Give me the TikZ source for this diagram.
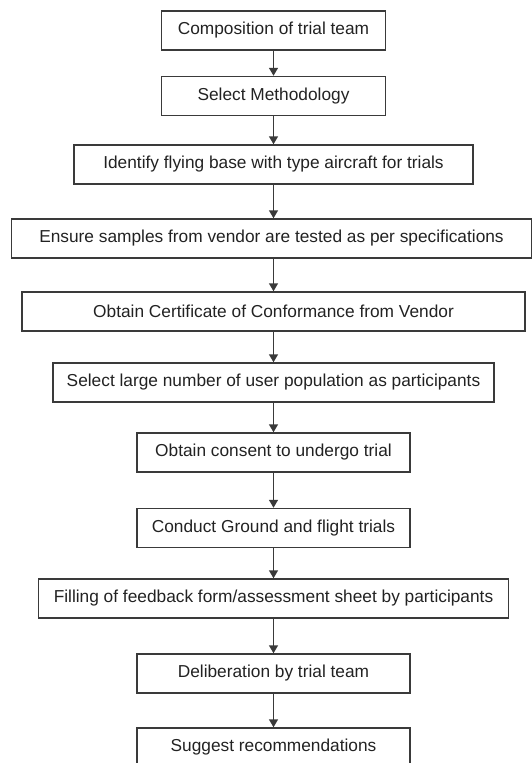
\documentclass[tikz,border=0pt]{standalone}
\usepackage{fontspec}
\setmainfont{Liberation Sans}
\usetikzlibrary{arrows.meta}
\definecolor{flowgray}{HTML}{3A3A3A}
\definecolor{flowtext}{HTML}{222222}

\begin{document}
\begin{tikzpicture}[x=1pt,y=-1pt]
\tikzstyle{every node}+=[inner sep=0pt]
\tikzstyle{stage}=[draw=flowgray, line width=1.5pt, minimum height=39pt, text=flowtext, font=\fontsize{17.3}{20}\selectfont]
\tikzstyle{flow}=[draw=flowgray, line width=1.6pt, -{Triangle[width=9pt,length=8pt]}]
\useasboundingbox (0,0) rectangle (532,763);
\node [stage, minimum width=224pt] (comp) at (273.5,30.3) {Composition of trial team};
\node [stage, minimum width=224pt] (method) at (273.5,96) {Select Methodology};
\node [stage, minimum width=399pt] (base) at (273.5,164.5) {Identify flying base with type aircraft for trials};
\node [stage, minimum width=520pt] (samples) at (271.5,238.5) {Ensure samples from vendor are tested as per specifications};
\node [stage, minimum width=503pt] (cert) at (273.5,311.5) {Obtain Certificate of Conformance from Vendor};
\node [stage, minimum width=441pt] (select) at (273.5,382.5) {Select large number of user population as participants};
\node [stage, minimum width=273pt] (consent) at (273.5,452.5) {Obtain consent to undergo trial};
\node [stage, minimum width=273pt] (trials) at (273.5,528) {Conduct Ground and flight trials};
\node [stage, minimum width=470pt] (feedback) at (273.5,598.5) {Filling of feedback form/assessment sheet by participants};
\node [stage, minimum width=273pt] (delib) at (273.5,673.5) {Deliberation by trial team};
\node [stage, minimum width=273pt] (recom) at (273.5,747.5) {Suggest recommendations};
\draw [flow] (comp) -- (method);
\draw [flow] (method) -- (base);
\draw [flow] (base.south) -- (base.south |- samples.north);
\draw [flow] (cert.north |- samples.south) -- (cert.north);
\draw [flow] (cert) -- (select);
\draw [flow] (select) -- (consent);
\draw [flow] (consent) -- (trials);
\draw [flow] (trials) -- (feedback);
\draw [flow] (feedback) -- (delib);
\draw [flow] (delib) -- (recom);
\end{tikzpicture}
\end{document}
